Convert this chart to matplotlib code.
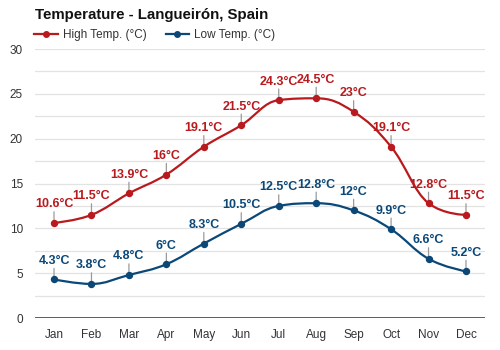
import numpy as np
import matplotlib
matplotlib.use("Agg")
import matplotlib.pyplot as plt
from matplotlib.path import Path
from matplotlib.patches import PathPatch
from matplotlib.lines import Line2D

plt.rcParams['font.family'] = ['Liberation Sans', 'DejaVu Sans']

months = ["Jan", "Feb", "Mar", "Apr", "May", "Jun", "Jul", "Aug", "Sep", "Oct", "Nov", "Dec"]
high = [10.6, 11.5, 13.9, 16, 19.1, 21.5, 24.3, 24.5, 23, 19.1, 12.8, 11.5]
low = [4.3, 3.8, 4.8, 6, 8.3, 10.5, 12.5, 12.8, 12, 9.9, 6.6, 5.2]
title = "Temperature - Langueirón, Spain"
series_names = ["High Temp. (°C)", "Low Temp. (°C)"]
yticks = [0, 5, 10, 15, 20, 25, 30]

HIGH_C = "#b91a1e"
LOW_C = "#0b4878"


def spline_path(xs, ys, smoothing=1.5):
    n = len(xs)
    denom = smoothing + 1
    lc = [None] * n
    rc = [None] * n
    for i in range(1, n - 1):
        lx, ly = xs[i - 1], ys[i - 1]
        px, py = xs[i], ys[i]
        nx, ny = xs[i + 1], ys[i + 1]
        lcx = (smoothing * px + lx) / denom
        lcy = (smoothing * py + ly) / denom
        rcx = (smoothing * px + nx) / denom
        rcy = (smoothing * py + ny) / denom
        if rcx != lcx:
            corr = ((rcy - lcy) * (rcx - px)) / (rcx - lcx) + py - rcy
            lcy += corr
            rcy += corr
        if lcy > ly and lcy > py:
            lcy = max(ly, py); rcy = 2 * py - lcy
        elif lcy < ly and lcy < py:
            lcy = min(ly, py); rcy = 2 * py - lcy
        if rcy > ny and rcy > py:
            rcy = max(ny, py); lcy = 2 * py - rcy
        elif rcy < ny and rcy < py:
            rcy = min(ny, py); lcy = 2 * py - rcy
        lc[i] = (lcx, lcy)
        rc[i] = (rcx, rcy)
    verts = [(xs[0], ys[0])]
    codes = [Path.MOVETO]
    for i in range(1, n):
        c1 = rc[i - 1] if rc[i - 1] is not None else (xs[i - 1], ys[i - 1])
        c2 = lc[i] if lc[i] is not None else (xs[i], ys[i])
        verts += [c1, c2, (xs[i], ys[i])]
        codes += [Path.CURVE4] * 3
    return Path(verts, codes)


fig = plt.figure(figsize=(5, 3.5), dpi=100)
ax = fig.add_axes([0.0706, 0.0914, 0.8988, 0.7686])

x = np.arange(len(months))
ax.set_xlim(-0.5, len(months) - 0.5)
ax.set_ylim(0, 30)

# grid
for g in np.arange(2.5, 30.01, 2.5):
    ax.axhline(g, color="#e3e3e3", lw=0.9, zorder=0)
ax.axhline(0, color="#333333", lw=1.1, zorder=1)

for vals, col in [(high, HIGH_C), (low, LOW_C)]:
    p = spline_path(list(x.astype(float)), list(vals))
    ax.add_patch(PathPatch(p, facecolor="none", edgecolor=col, lw=1.6, zorder=3))
    ax.plot(x, vals, "o", color=col, markersize=4.3, zorder=4, linestyle="none")
    for xi, v in zip(x, vals):
        ax.annotate("", xy=(xi, v), xytext=(0, 8), textcoords="offset points",
                    arrowprops=dict(arrowstyle="-", color="#9a9a9a", lw=0.9,
                                    shrinkA=0, shrinkB=0), zorder=2)
        ax.annotate(f"{v:g}°C", xy=(xi, v), xytext=(0, 13.3), textcoords="offset points",
                    ha="center", va="center", color=col, fontsize=9,
                    fontweight="bold", zorder=5)

ax.set_xticks(x)
ax.set_xticklabels(months)
ax.set_yticks(yticks)
ax.tick_params(axis="both", length=0, labelsize=8.5, labelcolor="#333333")
ax.tick_params(axis="x", pad=8)
ax.tick_params(axis="y", pad=9)
for s in ax.spines.values():
    s.set_visible(False)

fig.text(0.07, 1 - 15 / 350, title, fontsize=10.8, fontweight="bold",
         ha="left", va="center", color="#111111")

handles = [Line2D([0], [0], color=HIGH_C, lw=1.6, marker="o", markersize=4),
           Line2D([0], [0], color=LOW_C, lw=1.6, marker="o", markersize=4)]
fig.legend(handles, series_names, loc="center left", bbox_to_anchor=(0.068, 1 - 35 / 350),
           ncol=2, frameon=False, fontsize=8.5, handlelength=2.0, handletextpad=0.45,
           columnspacing=1.6, borderpad=0, borderaxespad=0, labelcolor="#333333")

fig.savefig("out.png", dpi=100, facecolor="white")
